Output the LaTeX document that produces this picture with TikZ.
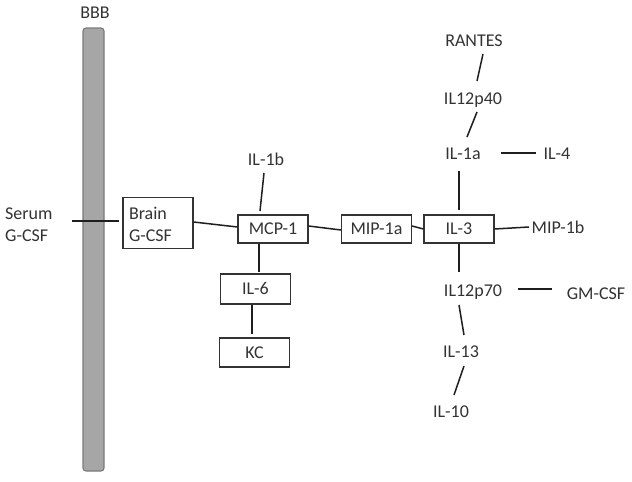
\documentclass[tikz,border=0pt]{standalone}
\usepackage{fontspec}
\setmainfont{Carlito}
\usetikzlibrary{calc}
\definecolor{txt}{HTML}{333333}
\definecolor{boxc}{HTML}{333333}
\definecolor{linec}{HTML}{1E1E1E}
\definecolor{barfill}{HTML}{A6A6A6}
\definecolor{bardraw}{HTML}{7A7A7A}
\begin{document}
\begin{tikzpicture}[x=1pt,y=-1pt,
  every node/.style={font=\fontsize{18}{22}\selectfont, text=txt, inner sep=0pt},
  lbl/.style={text height=11.6pt, text depth=0pt},
  box/.style={draw=boxc, line width=1.2pt, minimum width=70pt, minimum height=28pt, text height=11.6pt, text depth=0pt},
  conn/.style={draw=linec, line width=1.5pt},
  barstyle/.style={draw=bardraw, fill=barfill, line width=1.1pt, rounded corners=3pt, minimum width=21pt, minimum height=443pt}]
\useasboundingbox (0,0) rectangle (632,482);
% blood-brain barrier
\node[barstyle] (bar) at (93.5,249.5) {};
\node[lbl] (bbb) at (95,13) {BBB};
% nodes
\node[anchor=west, align=left] (serum) at (5,225) {Serum\\G-CSF};
\node[draw=boxc, line width=1.2pt, minimum width=70pt, minimum height=51pt, text width=58pt, align=left] (brain) at (158,223) {\rule{0pt}{16pt}Brain\\G-CSF};
\node[box] (mcp) at (273,229) {MCP-1};
\node[box] (mip1a) at (376.5,229) {MIP-1a};
\node[box] (il3) at (459,229) {IL-3};
\node[box, minimum height=30pt] (il6) at (255.5,289) {IL-6};
\node[box, minimum height=29pt] (kc) at (254.5,352.5) {KC};
\node[lbl] (il1b) at (266,160) {IL-1b};
\node[lbl] (il1a) at (463,154) {IL-1a};
\node[lbl] (il4) at (557,154) {IL-4};
\node[lbl] (il12p40) at (473,99) {IL12p40};
\node[lbl] (rantes) at (474,41) {RANTES};
\node[lbl] (mip1b) at (558,228) {MIP-1b};
\node[lbl] (il12p70) at (473,291) {IL12p70};
\node[lbl] (gmcsf) at (596,294) {GM-CSF};
\node[lbl] (il13) at (461,352) {IL-13};
\node[lbl] (il10) at (451,412) {IL-10};
% connectors
\draw[conn] ($(serum.west)+(67,-4)$) -- ($(brain.west)+(-3,-2)$);
\draw[conn] ($(brain.east)+(0,-1)$) -- ($(mcp.west)+(0,-2)$);
\draw[conn] ($(il1b)+(-2,13)$) -- ($(mcp)+(-13,-18)$);
\draw[conn] ($(mcp.east)+(0,-3)$) -- ($(mip1a.west)+(0,1)$);
\draw[conn] ($(mip1a.east)+(0,-3)$) -- (il3.west);
\draw[conn] (il3.east) -- ($(mip1b)+(-29,-1)$);
\draw[conn] ($(il3.north)+(0,-4)$) -- ($(il1a)+(-4,17)$);
\draw[conn] ($(il1a)+(38,-1)$) -- ($(il4)+(-21,-1)$);
\draw[conn] ($(il1a)+(4,-17)$) -- ($(il12p40)+(4,13)$);
\draw[conn] ($(il12p40)+(4,-18)$) -- ($(rantes)+(9,13)$);
\draw[conn] (il3.south) -- ($(il12p70)+(-14,-19)$);
\draw[conn] ($(il12p70)+(45,-2)$) -- ($(gmcsf)+(-44,-5)$);
\draw[conn] ($(il12p70)+(-14,14)$) -- ($(il13)+(3,-17)$);
\draw[conn] ($(il13)+(3,14)$) -- ($(il10)+(3,-17)$);
\draw[conn] ($(mcp.south)+(-14,0)$) -- ($(il6.north)+(3.5,-1)$);
\draw[conn] ($(il6.south)+(-3.5,0)$) -- ($(kc.north)+(-2.5,-3.5)$);
\end{tikzpicture}
\end{document}
